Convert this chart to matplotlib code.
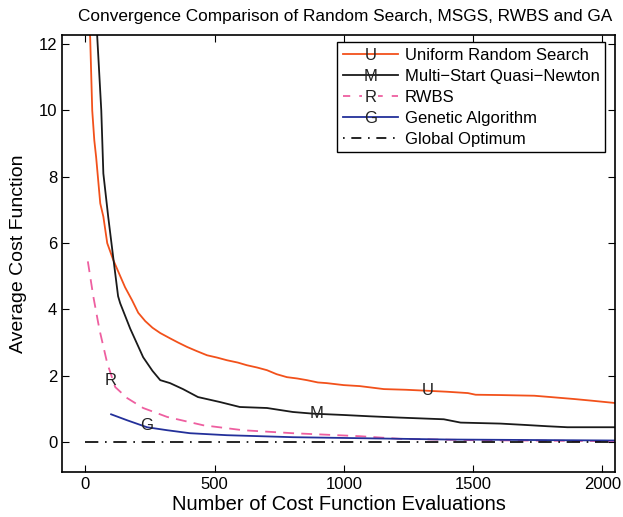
import matplotlib
matplotlib.use("Agg")
import matplotlib.pyplot as plt
from matplotlib.lines import Line2D
from matplotlib.legend_handler import HandlerLine2D
from matplotlib.text import Text

plt.rcParams['font.family'] = ['Liberation Sans', 'DejaVu Sans']

# data
urs_x = [10, 19, 27, 35, 42, 50, 58, 70, 85, 108, 130, 154, 181, 205, 232, 260, 290, 328, 360, 394,
         430, 471, 510, 548, 590, 625, 665, 703, 740, 780, 820, 857, 900, 934, 1000, 1062, 1155, 1240,
         1322, 1400, 1480, 1510, 1606, 1737, 1800, 1892, 1960, 2050]
urs_y = [13.0, 12.2, 10.0, 9.1, 8.6, 7.9, 7.2, 6.8, 6.0, 5.5, 5.1, 4.67, 4.28, 3.9, 3.65, 3.45, 3.29, 3.13,
         3.0, 2.87, 2.75, 2.62, 2.55, 2.47, 2.40, 2.32, 2.25, 2.17, 2.05, 1.96, 1.92, 1.87, 1.80, 1.78,
         1.72, 1.69, 1.60, 1.58, 1.55, 1.52, 1.48, 1.43, 1.42, 1.40, 1.36, 1.30, 1.25, 1.18]

msqn_x = [40, 46, 62, 70, 89, 108, 127, 135, 174, 224, 260, 290, 328, 378, 436, 521, 598, 703, 803, 880,
          998, 1100, 1219, 1387, 1452, 1606, 1700, 1788, 1865, 2050]
msqn_y = [14.0, 12.27, 10.0, 8.1, 6.78, 5.58, 4.4, 4.19, 3.42, 2.56, 2.15, 1.87, 1.78, 1.60, 1.36, 1.21,
          1.06, 1.03, 0.91, 0.86, 0.82, 0.78, 0.74, 0.69, 0.59, 0.56, 0.52, 0.48, 0.45, 0.45]

rwbs_x = [10, 31, 50, 58, 85, 116, 162, 224, 317, 456, 610, 803, 1062, 1219, 1500, 2050]
rwbs_y = [5.45, 4.4, 3.6, 3.29, 2.38, 1.66, 1.33, 1.03, 0.76, 0.51, 0.36, 0.27, 0.18, 0.10, 0.06, 0.03]

ga_x = [100, 162, 239, 317, 405, 548, 803, 1062, 1400, 2050]
ga_y = [0.84, 0.66, 0.45, 0.36, 0.27, 0.21, 0.15, 0.12, 0.08, 0.05]

opt_x = [0, 2050]
opt_y = [0, 0]

labels = ["Uniform Random Search", "Multi\u2212Start Quasi\u2212Newton", "RWBS",
          "Genetic Algorithm", "Global Optimum"]
letters = ["U", "M", "R", "G"]
letter_pos = [(1325, 1.55), (896, 0.87), (100, 1.87), (236, 0.51)]

c_urs = '#f2511b'
c_msqn = '#1a1a1a'
c_rwbs = '#ee5fa0'
c_ga = '#23309a'


class LetterHandler(HandlerLine2D):
    # legend line with a letter drawn in the middle
    def __init__(self, letter, gap=False, **kw):
        super().__init__(**kw)
        self.letter = letter
        self.gap = gap

    def create_artists(self, legend, orig_handle, xdescent, ydescent, width, height, fontsize, trans):
        arts = super().create_artists(legend, orig_handle, xdescent, ydescent, width, height, fontsize, trans)
        ymid = (height - ydescent) / 2.0 - 0.36 * fontsize
        t = Text(width / 2 - xdescent, ymid, self.letter, ha='center', va='baseline',
                 fontsize=fontsize, color='#222222', transform=trans)
        if self.gap:
            t.set_bbox(dict(facecolor='white', edgecolor='none', pad=1.5))
        return arts + [t]


fig = plt.figure(figsize=(6.23, 5.17), dpi=100)
ax = fig.add_axes([0.0995, 0.087, 0.888, 0.845])

ax.plot(urs_x, urs_y, color=c_urs, lw=1.3)
ax.plot(msqn_x, msqn_y, color=c_msqn, lw=1.3)
ax.plot(rwbs_x, rwbs_y, color=c_rwbs, lw=1.3, ls=(0, (6, 4)))
ax.plot(ga_x, ga_y, color=c_ga, lw=1.3)
ax.plot(opt_x, opt_y, color='k', lw=1.2, ls=(0, (8, 4, 1, 4)))

for s, (lx, ly) in zip(letters, letter_pos):
    ax.text(lx, ly, s, ha='center', va='center', fontsize=12, color='#222222')

ax.set_xlim(-90, 2050)
ax.set_ylim(-0.9, 12.27)
ax.set_xticks([0, 500, 1000, 1500, 2000])
ax.set_yticks([0, 2, 4, 6, 8, 10, 12])
ax.tick_params(direction='in', top=True, right=True, labelsize=12, length=5, width=0.8)
for sp in ax.spines.values():
    sp.set_linewidth(1.2)

ax.set_xlabel("Number of Cost Function Evaluations", fontsize=14.5, labelpad=2)
ax.set_ylabel("Average Cost Function", fontsize=14, labelpad=8)
ax.set_title("Convergence Comparison of Random Search, MSGS, RWBS and GA", fontsize=12.4, pad=10, x=0.511)

h_urs = Line2D([], [], color=c_urs, lw=1.3)
h_msqn = Line2D([], [], color=c_msqn, lw=1.3)
h_rwbs = Line2D([], [], color=c_rwbs, lw=1.3, ls=(0, (4, 5)))
h_ga = Line2D([], [], color=c_ga, lw=1.3)
h_opt = Line2D([], [], color='k', lw=1.2, ls=(0, (1, 4, 6, 4)))
handles = [h_urs, h_msqn, h_rwbs, h_ga, h_opt]
hmap = {h_urs: LetterHandler("U"), h_msqn: LetterHandler("M"), h_rwbs: LetterHandler("R", gap=True),
        h_ga: LetterHandler("G")}

leg = ax.legend(handles, labels, handler_map=hmap, loc='upper right', bbox_to_anchor=(0.982, 0.985),
                borderaxespad=0, fontsize=12, handlelength=3.3, numpoints=1, fancybox=False, framealpha=1,
                edgecolor='k', labelspacing=0.36, handletextpad=0.4, borderpad=0.35)
leg.get_frame().set_linewidth(1.0)

fig.savefig("out.png", dpi=100)
